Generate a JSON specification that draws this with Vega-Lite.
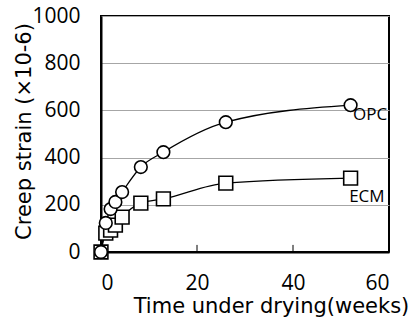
{
  "$schema": "https://vega.github.io/schema/vega-lite/v6.json",
  "width": 288,
  "height": 236,
  "autosize": "none",
  "padding": {"left": 101, "top": 16, "right": 28, "bottom": 68},
  "background": "white",
  "config": {
    "view": {"stroke": "black", "strokeWidth": 2},
    "font": "Open Sans"
  },
  "datasets": {
    "series": [
      {"mix": "ECM", "week": 0, "strain": 0},
      {"mix": "ECM", "week": 1, "strain": 80},
      {"mix": "ECM", "week": 2, "strain": 93},
      {"mix": "ECM", "week": 3, "strain": 114},
      {"mix": "ECM", "week": 4.4, "strain": 148},
      {"mix": "ECM", "week": 8.3, "strain": 207},
      {"mix": "ECM", "week": 13, "strain": 225},
      {"mix": "ECM", "week": 26, "strain": 292},
      {"mix": "ECM", "week": 52, "strain": 313},
      {"mix": "OPC", "week": 0, "strain": 0},
      {"mix": "OPC", "week": 1, "strain": 123},
      {"mix": "OPC", "week": 2, "strain": 182},
      {"mix": "OPC", "week": 3, "strain": 212},
      {"mix": "OPC", "week": 4.4, "strain": 254},
      {"mix": "OPC", "week": 8.3, "strain": 360},
      {"mix": "OPC", "week": 13, "strain": 423},
      {"mix": "OPC", "week": 26, "strain": 550},
      {"mix": "OPC", "week": 52, "strain": 622}
    ],
    "labels": [
      {"label": "OPC", "week": 52.5, "strain": 580},
      {"label": "ECM", "week": 51.7, "strain": 233}
    ],
    "ticks": [
      {"week": 20, "strain": 0, "strain2": 30},
      {"week": 40, "strain": 0, "strain2": 30}
    ]
  },
  "encoding": {
    "x": {
      "field": "week", "type": "quantitative",
      "scale": {"domain": [0, 60], "nice": false},
      "axis": {
        "title": "Time under drying(weeks)",
        "values": [0, 20, 40, 60],
        "grid": false,
        "domainColor": "black", "domainWidth": 2,
        "ticks": false,
        "labelBaseline": "alphabetic",
        "labelPadding": 37,
        "labelFontSize": 21, "labelColor": "black",
        "titleFont": "DejaVu Sans",
        "titleFontSize": 21, "titleFontWeight": "normal", "titleColor": "black",
        "titleBaseline": "alphabetic",
        "titleX": 170, "titleY": 60
      }
    },
    "y": {
      "field": "strain", "type": "quantitative",
      "scale": {"domain": [0, 1000], "nice": false},
      "axis": {
        "title": "Creep strain (×10-6)",
        "values": [0, 200, 400, 600, 800, 1000],
        "format": "d",
        "grid": true, "gridColor": "#a6a6a6", "gridWidth": 1,
        "ticks": false,
        "domainColor": "black", "domainWidth": 2,
        "labelPadding": 21,
        "labelFontSize": 21, "labelColor": "black",
        "titleFont": "DejaVu Sans",
        "titleFontSize": 21, "titleFontWeight": "normal", "titleColor": "black",
        "titleBaseline": "alphabetic",
        "titleX": -71, "titleY": 115
      }
    }
  },
  "layer": [
    {
      "data": {"name": "ticks"},
      "mark": {"type": "rule", "color": "black", "strokeWidth": 1},
      "encoding": {"y2": {"field": "strain2"}}
    },
    {
      "data": {"name": "series"},
      "mark": {"type": "line", "interpolate": "monotone", "color": "black", "strokeWidth": 1.3},
      "encoding": {"detail": {"field": "mix"}}
    },
    {
      "data": {"name": "series"},
      "mark": {"type": "point", "filled": true, "fill": "white", "stroke": "black", "strokeWidth": 1.6, "opacity": 1},
      "encoding": {
        "shape": {"field": "mix", "type": "nominal", "scale": {"domain": ["ECM", "OPC"], "range": ["square", "circle"]}, "legend": null},
        "size": {"field": "mix", "type": "nominal", "scale": {"domain": ["ECM", "OPC"], "range": [190, 160]}, "legend": null},
        "order": {"field": "mix"}
      }
    },
    {
      "data": {"name": "labels"},
      "mark": {"type": "text", "align": "left", "baseline": "middle", "fontSize": 17, "color": "black", "clip": true},
      "encoding": {"text": {"field": "label"}}
    }
  ]
}
